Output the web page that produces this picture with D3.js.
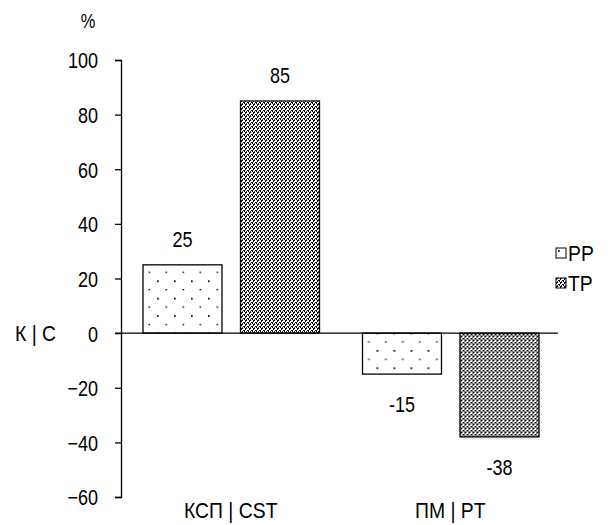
<!DOCTYPE html>
<html>
<head>
<meta charset="utf-8">
<script src="https://cdn.jsdelivr.net/npm/d3@7"></script>
<style>
	body { margin: 0; background: #fff; }
	text { font-family: "Liberation Sans", Arial, sans-serif; font-size: 22px; fill: #000; }
</style>
</head>
<body>
<div class="chart"></div>
<script>
const categories = ["КСП | CST", "ПМ | PT"];
const seriesNames = ["PP", "TP"];
const ppValues = [25, -15];
const tpValues = [85, -38];
const yTicks = [-60, -40, -20, 0, 20, 40, 60, 80, 100];

const width = 612, height = 525;
const margin = {top: 60, right: 52, bottom: 28, left: 121};
const squeeze = 0.82; // narrow look of the original font (digits)
const squeezeTxt = 0.88; // letters look a bit wider

let svg = d3.select("div.chart")
	.append("svg")
	.attr("width", width)
	.attr("height", height);

// place text at x,y and squeeze it horizontally
function putText(sel, fx, fy, k = squeeze) {
	sel.attr("x", 0).attr("y", 0)
		.attr("transform", (d, i) => "translate(" + fx(d, i) + "," + fy(d, i) + ") scale(" + k + ",1)");
}

// fill patterns
let defs = svg.append("defs");
let pp = defs.append("pattern")
	.attr("id", "pat-pp")
	.attr("patternUnits", "userSpaceOnUse")
	.attr("width", 17).attr("height", 17.4);
pp.append("rect").attr("width", 17).attr("height", 17.4).attr("fill", "#fff");
pp.append("rect").attr("x", 2).attr("y", 2).attr("width", 1.7).attr("height", 1.7).attr("fill", "#000");
pp.append("rect").attr("x", 10.5).attr("y", 10.7).attr("width", 1.7).attr("height", 1.2).attr("fill", "#000");

let tp = defs.append("pattern")
	.attr("id", "pat-tp")
	.attr("patternUnits", "userSpaceOnUse")
	.attr("width", 4).attr("height", 4);
tp.append("rect").attr("width", 4).attr("height", 4).attr("fill", "#fff");
tp.append("rect").attr("x", 0).attr("y", 0).attr("width", 2).attr("height", 1).attr("fill", "#000");
tp.append("rect").attr("x", 0).attr("y", 1).attr("width", 1).attr("height", 1).attr("fill", "#000");
tp.append("rect").attr("x", 2).attr("y", 2).attr("width", 2).attr("height", 1).attr("fill", "#000");
tp.append("rect").attr("x", 3).attr("y", 3).attr("width", 1).attr("height", 1).attr("fill", "#000");
tp.append("rect").attr("x", 1).attr("y", 3).attr("width", 1).attr("height", 1).attr("fill", "#333");

const patFill = {PP: "url(#pat-pp)", TP: "url(#pat-tp)"};

let y = d3.scaleLinear()
	.domain([-60, 100])
	.range([497, margin.top]);

let x0 = d3.scaleBand()
	.domain(categories)
	.range([margin.left, width - margin.right])
	.paddingInner(0)
	.paddingOuter(0);

let x1 = d3.scaleBand()
	.domain(seriesNames)
	.range([22, x0.bandwidth() - 21])
	.paddingInner(0.19);

let data = categories.map((c, i) => ({
	cat: c,
	vals: [{key: "PP", v: ppValues[i]}, {key: "TP", v: tpValues[i]}]
}));

// bars
let groups = svg.selectAll("g.grp")
	.data(data)
	.enter().append("g")
	.attr("class", "grp")
	.attr("transform", d => "translate(" + x0(d.cat) + ",0)");

groups.selectAll("rect")
	.data(d => d.vals)
	.enter().append("rect")
	.attr("x", d => x1(d.key))
	.attr("y", d => y(Math.max(0, d.v)))
	.attr("width", x1.bandwidth())
	.attr("height", d => Math.abs(y(d.v) - y(0)))
	.attr("fill", d => patFill[d.key])
	.attr("stroke", "#000")
	.attr("stroke-width", 1.3);

// value labels
groups.selectAll("text.val")
	.data(d => d.vals)
	.enter().append("text")
	.attr("class", "val")
	.attr("text-anchor", "middle")
	.text(d => d.v)
	.call(putText,
		d => x1(d.key) + x1.bandwidth() / 2,
		d => d.v >= 0 ? y(d.v) - 18 : y(d.v) + 38);

// y axis
let yAxis = d3.axisLeft(y).tickValues(yTicks).tickSize(6).tickSizeOuter(6);
let ga = svg.append("g")
	.attr("transform", "translate(" + margin.left + ",0)")
	.call(yAxis);
ga.select(".domain").attr("stroke", "#000").attr("stroke-width", 1.3);
ga.selectAll(".tick line").attr("stroke", "#000").attr("stroke-width", 1.3);
ga.selectAll(".tick text")
	.attr("x", 0)
	.attr("dy", "0.36em")
	.attr("transform", "translate(-23,0) scale(" + squeeze + ",1)")
	.style("font-size", "22px")
	.style("font-family", "'Liberation Sans', Arial, sans-serif");

// zero line
svg.append("line")
	.attr("x1", margin.left - 6)
	.attr("x2", width - margin.right - 2)
	.attr("y1", y(0)).attr("y2", y(0))
	.attr("stroke", "#000")
	.attr("stroke-width", 1.3);

// category labels
svg.selectAll("text.cat")
	.data(categories)
	.enter().append("text")
	.attr("class", "cat")
	.attr("text-anchor", "middle")
	.text(d => d)
	.call(putText, d => x0(d) + x0.bandwidth() / 2, () => 518, squeezeTxt);

// axis titles
svg.append("text").attr("text-anchor", "middle").style("font-size", "20px").text("%")
	.call(putText, () => 88, () => 28);
svg.append("text").text("К | С")
	.call(putText, () => 15, () => y(0) + 8, squeezeTxt);

// legend
let leg = svg.selectAll("g.leg")
	.data(seriesNames)
	.enter().append("g")
	.attr("class", "leg")
	.attr("transform", (d, i) => "translate(556," + (248 + i * 30) + ")");
leg.append("rect")
	.attr("width", 10).attr("height", 10)
	.attr("fill", d => patFill[d])
	.attr("stroke", "#000")
	.attr("stroke-width", 1);
leg.append("text")
	.text(d => d)
	.call(putText, () => 12, () => 13, squeezeTxt);
</script>
</body>
</html>
